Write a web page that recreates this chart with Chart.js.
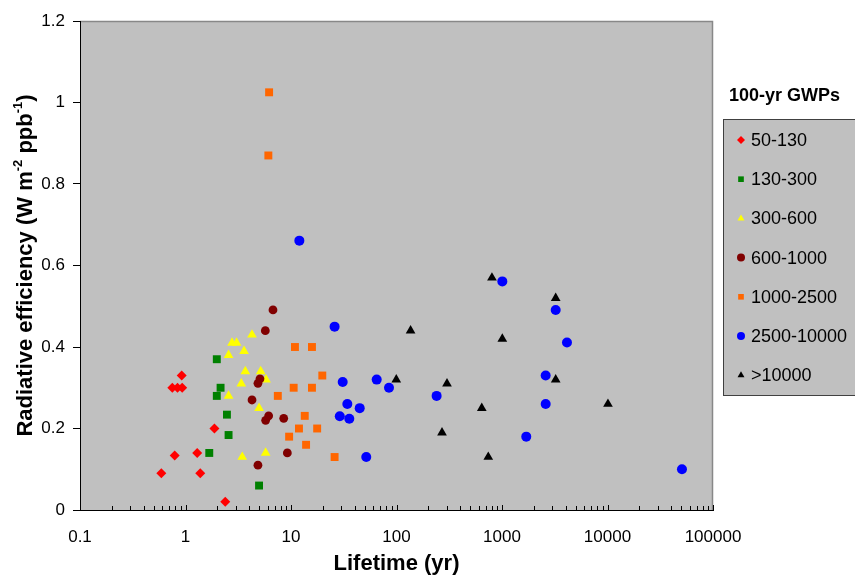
<!DOCTYPE html>
<html>
<head>
<meta charset="utf-8">
<script src="https://cdn.jsdelivr.net/npm/chart.js@4"></script>
<style>
  body { margin: 0; background: #fff; }
  canvas { display: block; }
</style>
</head>
<body>
<canvas id="myChart" width="855" height="577"></canvas>
<script>
// GWP classes (legend labels)
var labels = ["50-130", "130-300", "300-600", "600-1000", "1000-2500", "2500-10000", ">10000"];

// lifetime (yr) and radiative efficiency (W m-2 ppb-1) for each class
var lifeA = [0.92, 0.75, 0.84, 0.93, 1.88, 0.79, 1.29, 0.59, 1.38, 2.38];
var effA  = [0.33, 0.30, 0.30, 0.30, 0.20, 0.134, 0.14, 0.09, 0.09, 0.02];

var lifeB = [1.98, 2.15, 1.98, 2.47, 2.56, 1.68, 4.98];
var effB  = [0.37, 0.30, 0.28, 0.234, 0.184, 0.14, 0.06];

var lifeC = [4.27, 2.76, 3.05, 2.56, 3.59, 3.69, 5.16, 3.38, 5.80, 2.56, 4.98, 3.45, 5.75];
var effC  = [0.43, 0.41, 0.41, 0.38, 0.39, 0.34, 0.34, 0.31, 0.32, 0.28, 0.25, 0.13, 0.14];

var lifeD = [6.75, 5.71, 5.08, 4.86, 4.27, 6.14, 5.75, 8.53, 9.23, 4.86];
var effD  = [0.491, 0.44, 0.322, 0.311, 0.27, 0.231, 0.22, 0.225, 0.14, 0.11];

var lifeE = [6.2, 6.1, 10.9, 15.8, 19.8, 10.6, 15.8, 7.5, 13.5, 11.9, 17.7, 9.6, 13.9, 25.9];
var effE  = [1.025, 0.87, 0.40, 0.40, 0.33, 0.30, 0.30, 0.28, 0.231, 0.20, 0.20, 0.18, 0.16, 0.13];

var lifeF = [12.0, 25.9, 30.9, 64.9, 84.9, 34.2, 44.8, 29.0, 35.7, 51.7, 1007, 3228, 4130, 2594, 240, 2594, 1698, 50800];
var effF  = [0.661, 0.45, 0.314, 0.32, 0.30, 0.26, 0.25, 0.23, 0.224, 0.13, 0.561, 0.491, 0.411, 0.33, 0.28, 0.26, 0.18, 0.10];

var lifeG = [803, 3228, 1007, 301, 3228, 643, 10100, 270, 741, 136, 99.5];
var effG  = [0.57, 0.52, 0.42, 0.31, 0.32, 0.25, 0.26, 0.19, 0.13, 0.44, 0.32];

var xTicks = [0.1, 1, 10, 100, 1000, 10000, 100000];
var yTicks = [0, 0.2, 0.4, 0.6, 0.8, 1, 1.2];

var colors = ["#FF0000", "#008000", "#FFFF00", "#800000", "#FF6600", "#0000FF", "#000000"];
var styles = ["rectRot", "rect", "triangle", "circle", "rect", "circle", "triangle"];
var sizes  = [5, 5.6, 5.6, 4.4, 5.6, 5, 5.6];

var lifes = [lifeA, lifeB, lifeC, lifeD, lifeE, lifeF, lifeG];
var effs  = [effA, effB, effC, effD, effE, effF, effG];

function pts(xs, ys) {
  return xs.map(function (v, i) { return { x: v, y: ys[i] }; });
}

var datasets = labels.map(function (lab, i) {
  return {
    label: lab,
    data: pts(lifes[i], effs[i]),
    backgroundColor: colors[i],
    borderColor: colors[i],
    borderWidth: 0,
    pointStyle: styles[i],
    pointRadius: sizes[i],
    order: labels.length - i
  };
});

var FONT = '"Liberation Sans", Arial, sans-serif';
Chart.defaults.font.family = FONT;
Chart.defaults.color = "#000";

// grey plot area with grey top / right frame
var plotBack = {
  id: "plotBack",
  beforeDraw: function (chart) {
    var a = chart.chartArea, ctx = chart.ctx;
    ctx.save();
    ctx.fillStyle = "#C0C0C0";
    ctx.fillRect(a.left, a.top, a.right - a.left, a.bottom - a.top);
    ctx.strokeStyle = "#888888";
    ctx.lineWidth = 1.5;
    ctx.beginPath();
    ctx.moveTo(a.left, a.top + 0.5);
    ctx.lineTo(a.right - 0.5, a.top + 0.5);
    ctx.lineTo(a.right - 0.5, a.bottom);
    ctx.stroke();
    ctx.restore();
  },
  afterDraw: function (chart) {
    // log minor ticks pointing into the plot
    var xs = chart.scales.x, ctx = chart.ctx, b = chart.chartArea.bottom;
    ctx.save();
    ctx.strokeStyle = "#000";
    ctx.lineWidth = 1;
    ctx.beginPath();
    for (var e = -1; e <= 5; e++) {
      for (var k = 1; k <= 9; k++) {
        var v = k * Math.pow(10, e);
        if (v > 100000) break;
        var px = Math.round(xs.getPixelForValue(v)) + 0.5;
        ctx.moveTo(px, b);
        ctx.lineTo(px, b - (k == 1 ? 5 : 4));
      }
    }
    ctx.stroke();

    // y axis title with superscripts
    var a = chart.chartArea;
    ctx.translate(26, (a.top + a.bottom) / 2);
    ctx.rotate(-Math.PI / 2);
    ctx.fillStyle = "#000";
    ctx.textBaseline = "middle";
    var parts = [
      ["Radiative efficiency (W m", 0], ["-2", 1], [" ppb", 0], ["-1", 1], [")", 0]
    ];
    var big = "bold 22px " + FONT, small = "bold 13px " + FONT;
    var total = 0;
    parts.forEach(function (p) { ctx.font = p[1] ? small : big; total += ctx.measureText(p[0]).width; });
    var x = -total / 2;
    parts.forEach(function (p) {
      ctx.font = p[1] ? small : big;
      ctx.fillText(p[0], x, p[1] ? -8 : 0);
      x += ctx.measureText(p[0]).width;
    });
    ctx.restore();
  }
};

// legend box on the right
var legendBox = {
  id: "legendBox",
  afterDraw: function (chart) {
    var ctx = chart.ctx;
    ctx.save();
    ctx.fillStyle = "#000";
    ctx.textBaseline = "middle";
    ctx.font = "bold 18px " + FONT;
    ctx.fillText("100-yr GWPs", 729, 96);
    ctx.fillStyle = "#C0C0C0";
    ctx.fillRect(723.5, 119.5, 140, 276);
    ctx.strokeStyle = "#404040";
    ctx.lineWidth = 1;
    ctx.strokeRect(723.5, 119.5, 140, 276);
    ctx.font = "18px " + FONT;
    chart.data.datasets.forEach(function (ds, i) {
      var y = 140 + i * 39.2;
      ctx.fillStyle = ds.backgroundColor;
      Chart.helpers.drawPoint(ctx, { pointStyle: ds.pointStyle, radius: 4, borderWidth: 0, rotation: 0 }, 741, y);
      ctx.fillStyle = "#000";
      ctx.fillText(ds.label, 751, y + 1);
    });
    ctx.restore();
  }
};

new Chart("myChart", {
  type: "scatter",
  data: { datasets: datasets },
  options: {
    responsive: false,
    animation: false,
    devicePixelRatio: 1,
    layout: { padding: { top: 21, right: 142, bottom: 0, left: 0 } },
    plugins: {
      legend: { display: false },
      tooltip: { enabled: false }
    },
    scales: {
      x: {
        type: "logarithmic",
        min: 0.1,
        max: 100000,
        afterBuildTicks: function (s) { s.ticks = xTicks.map(function (v) { return { value: v }; }); },
        afterFit: function (s) { s.height = 67; },
        ticks: {
          font: { size: 17 },
          padding: 9,
          maxRotation: 0,
          autoSkip: false,
          callback: function (v) { return String(v); }
        },
        grid: { display: false },
        border: { display: true, color: "#000", width: 1 },
        title: {
          display: true,
          text: "Lifetime (yr)",
          font: { size: 22, weight: "bold" },
          padding: 0
        }
      },
      y: {
        min: 0,
        max: 1.2,
        afterBuildTicks: function (s) { s.ticks = yTicks.map(function (v) { return { value: v }; }); },
        afterFit: function (s) { s.width = 80; },
        ticks: {
          font: { size: 17 },
          padding: 8,
          callback: function (v) { return String(v); }
        },
        grid: { display: true, drawOnChartArea: false, drawTicks: true, tickLength: 7, color: "#000" },
        border: { display: true, color: "#000", width: 1 }
      }
    }
  },
  plugins: [plotBack, legendBox]
});
</script>
</body>
</html>
